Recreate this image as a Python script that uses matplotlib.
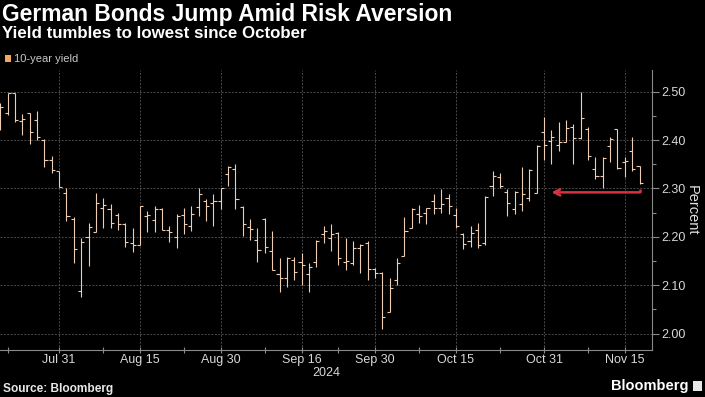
import matplotlib
matplotlib.use("Agg")
import matplotlib.pyplot as plt
from matplotlib.patches import Rectangle
import numpy as np
import pandas as pd

# ---------------- data ----------------
dates = pd.bdate_range("2024-07-19", "2024-11-19")
opens = [2.45, 2.457, 2.497, 2.44, 2.457, 2.442, 2.40, 2.358,
         2.336, 2.29, 2.236, 2.087, 2.20, 2.21, 2.26, 2.258, 2.246, 2.226, 2.187, 2.183,
         2.244, 2.234, 2.257, 2.215, 2.20, 2.245, 2.222, 2.262, 2.274, 2.27, 2.274,
         2.329, 2.34, 2.262, 2.22, 2.194, 2.236, 2.17, 2.124, 2.114, 2.152, 2.148,
         2.124, 2.149, 2.205, 2.198, 2.208, 2.149, 2.146, 2.176, 2.187, 2.134,
         2.125, 2.045, 2.111, 2.16, 2.219, 2.247, 2.25, 2.274, 2.26, 2.281, 2.245,
         2.205, 2.191, 2.215, 2.187, 2.306, 2.323, 2.292, 2.257, 2.267, 2.28, 2.29,
         2.417, 2.398, 2.389, 2.397, 2.427, 2.405, 2.424, 2.34, 2.326, 2.387, 2.424,
         2.354, 2.377, 2.347]
highs = [2.476, 2.497, 2.497, 2.455, 2.457, 2.46, 2.403, 2.368,
         2.337, 2.302, 2.24, 2.198, 2.229, 2.29, 2.281, 2.267, 2.25, 2.228, 2.218, 2.264,
         2.253, 2.264, 2.26, 2.222, 2.247, 2.26, 2.264, 2.30, 2.278, 2.288, 2.30,
         2.347, 2.351, 2.264, 2.236, 2.218, 2.239, 2.212, 2.156, 2.159, 2.159, 2.166,
         2.145, 2.194, 2.222, 2.227, 2.21, 2.198, 2.191, 2.185, 2.191, 2.135,
         2.128, 2.115, 2.156, 2.24, 2.26, 2.266, 2.26, 2.288, 2.299, 2.288, 2.26,
         2.208, 2.222, 2.229, 2.285, 2.337, 2.333, 2.299, 2.295, 2.345, 2.34, 2.389,
         2.448, 2.42, 2.438, 2.441, 2.434, 2.50, 2.427, 2.365, 2.365, 2.406, 2.424,
         2.365, 2.406, 2.347]
lows = [2.42, 2.451, 2.437, 2.41, 2.392, 2.40, 2.344, 2.333,
        2.303, 2.233, 2.146, 2.076, 2.139, 2.21, 2.219, 2.219, 2.215, 2.178, 2.169, 2.183,
        2.211, 2.211, 2.215, 2.19, 2.177, 2.205, 2.212, 2.243, 2.233, 2.222, 2.257,
        2.306, 2.257, 2.201, 2.194, 2.149, 2.166, 2.131, 2.086, 2.097, 2.11, 2.10,
        2.086, 2.138, 2.187, 2.17, 2.142, 2.132, 2.142, 2.125, 2.111, 2.115,
        2.01, 2.045, 2.10, 2.16, 2.219, 2.229, 2.226, 2.247, 2.25, 2.247, 2.219,
        2.174, 2.18, 2.177, 2.184, 2.285, 2.302, 2.243, 2.247, 2.253, 2.274, 2.29,
        2.358, 2.35, 2.378, 2.396, 2.35, 2.403, 2.358, 2.32, 2.302, 2.354, 2.34,
        2.323, 2.337, 2.309]
closes = [2.469, 2.497, 2.441, 2.443, 2.417, 2.406, 2.358, 2.338,
          2.303, 2.243, 2.174, 2.19, 2.22, 2.269, 2.265, 2.229, 2.227, 2.189, 2.183, 2.264,
          2.246, 2.257, 2.215, 2.211, 2.244, 2.226, 2.248, 2.288, 2.264, 2.275, 2.30,
          2.344, 2.278, 2.227, 2.216, 2.172, 2.18, 2.131, 2.114, 2.157, 2.128, 2.142,
          2.138, 2.192, 2.212, 2.206, 2.156, 2.15, 2.176, 2.184, 2.134, 2.125,
          2.035, 2.094, 2.146, 2.212, 2.257, 2.243, 2.26, 2.26, 2.267, 2.264, 2.222,
          2.185, 2.208, 2.184, 2.283, 2.326, 2.306, 2.269, 2.292, 2.288, 2.338, 2.387,
          2.389, 2.406, 2.397, 2.426, 2.405, 2.446, 2.367, 2.326, 2.363, 2.403, 2.342,
          2.357, 2.34, 2.312]

major_dates = ["2024-07-31", "2024-08-15", "2024-08-30", "2024-09-16",
               "2024-09-30", "2024-10-15", "2024-10-31", "2024-11-15"]
major_labels = ["Jul 31", "Aug 15", "Aug 30", "Sep 16", "Sep 30", "Oct 15", "Oct 31", "Nov 15"]
minor_dates = ["2024-07-22", "2024-08-08", "2024-08-23", "2024-09-09",
               "2024-09-23", "2024-10-08", "2024-10-23", "2024-11-08"]
y_ticks = [2.00, 2.10, 2.20, 2.30, 2.40, 2.50]
arrow_level = 2.292
arrow_top = 2.299
arrow_target = "2024-11-01"

# ---------------- figure ----------------
W, H = 705, 397
fig = plt.figure(figsize=(W / 100, H / 100), dpi=100, facecolor="black")
ax = fig.add_axes([0, 1 - 350 / H, 652 / W, (350 - 70) / H], facecolor="black")

SANS = ["Liberation Sans", "DejaVu Sans"]

pos = {d: i for i, d in enumerate(dates)}
x = np.arange(len(dates)) - 8  # Jul 31 -> 0
def xi(d):
    return x[pos[pd.Timestamp(d)]]

bar_col = "#efcdb2"
tick_w = 0.42
ax.vlines(x, lows, highs, color=bar_col, lw=0.8)
ax.hlines(opens, x - tick_w, x, color=bar_col, lw=0.8)
ax.hlines(closes, x, x + tick_w, color=bar_col, lw=0.8)

# arrow annotation
red = "#d6333f"
xe = x[-1]
ax.plot([xe, xe], [arrow_top, arrow_level], color=red, lw=1.8, solid_capstyle="butt")
ax.annotate("", xy=(xi(arrow_target), arrow_level), xytext=(xe + 0.1, arrow_level),
            arrowprops=dict(arrowstyle="->", color=red, lw=1.8, mutation_scale=11,
                            shrinkA=0, shrinkB=0))

ax.set_xlim(-8.05, 80.7)

ax.set_xticks([xi(d) for d in major_dates])
ax.set_xticklabels(major_labels)
ax.set_xticks([xi(d) for d in minor_dates], minor=True)
ax.yaxis.tick_right()
ax.yaxis.set_label_position("right")
ax.set_yticks(y_ticks)
ax.set_yticklabels([f"{v:.2f}" for v in y_ticks])
ax.set_yticks(np.arange(1.95, 2.55, 0.05), minor=True)
ax.set_ylim(1.966, 2.545)

for lab in ax.get_xticklabels() + ax.get_yticklabels():
    lab.set_family(SANS)
    lab.set_fontsize(9)
    lab.set_color("#d8d8d8")

ax.tick_params(axis="x", which="both", direction="inout", length=4, width=0.8,
               color="#8a8a8a", pad=1)
ax.tick_params(axis="y", which="major", direction="out", length=5, width=0.8,
               color="#8a8a8a", pad=2)
ax.tick_params(axis="y", which="minor", direction="out", length=3, width=0.8,
               color="#8a8a8a")

ax.grid(True, which="major", color="#4a4a4a", lw=0.7, linestyle=(0, (2, 1.5)))
ax.set_axisbelow(True)
for s in ["top", "left"]:
    ax.spines[s].set_visible(False)
for s in ["bottom", "right"]:
    ax.spines[s].set_color("#8a8a8a")
    ax.spines[s].set_linewidth(0.8)

ax.set_ylabel("Percent", rotation=270, color="#e0e0e0", fontsize=10.5,
              family=SANS, labelpad=9)

# year label
fig.text(326 / W, 1 - 373 / H, "2024", ha="center", va="center", color="#d8d8d8",
         fontsize=9, family=SANS)

# titles
fig.text(2 / W, 1 - 3 / H, "German Bonds Jump Amid Risk Aversion", ha="left", va="top",
         color="white", fontsize=16.5, fontweight="bold", family=SANS)
fig.text(2 / W, 1 - 26 / H, "Yield tumbles to lowest since October", ha="left", va="top",
         color="white", fontsize=12.2, fontweight="bold", family=SANS)

# legend
fig.patches.append(Rectangle((5 / W, 1 - 62 / H), 6 / W, 7 / H, transform=fig.transFigure,
                             facecolor="#f5a55a", edgecolor="none"))
fig.text(14 / W, 1 - 58.5 / H, "10-year yield", ha="left", va="center", color="#c8c8c8",
         fontsize=8, family=SANS)

# footer
fig.text(3 / W, 1 - 389 / H, "Source: Bloomberg", ha="left", va="center", color="#e8e8e8",
         fontsize=8.6, fontweight="bold", family=SANS)
fig.text(689 / W, 1 - 386 / H, "Bloomberg", ha="right", va="center", color="white",
         fontsize=10.5, fontweight="bold", family=SANS)
fig.patches.append(Rectangle((693 / W, 1 - 391 / H), 9 / W, 10 / H, transform=fig.transFigure,
                             facecolor="#e8e8e8", edgecolor="none"))

fig.savefig("out.png", dpi=100, facecolor="black")
